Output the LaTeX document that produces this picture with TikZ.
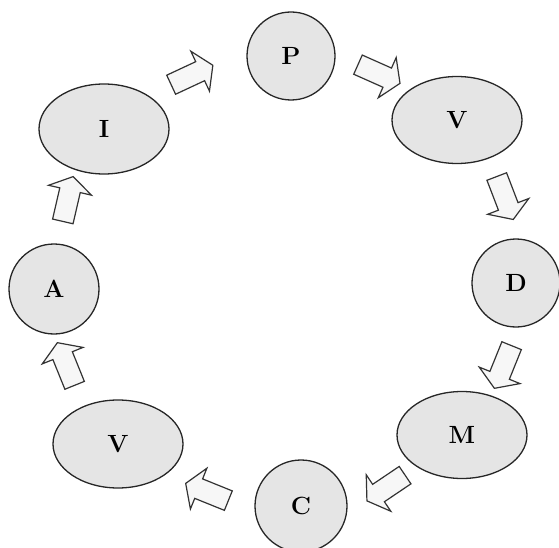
\documentclass[tikz,border=0pt]{standalone}
\usepackage{fontspec}
\usetikzlibrary{shapes.geometric}

\tikzset{
  flowarrow/.pic={
    \draw[draw=black!80, fill=black!3, line width=1.2pt, line join=miter]
      (-23,-10.5) -- (9,-10.5) -- (9,-22) -- (23,0) -- (9,22) -- (9,10.5) -- (-23,10.5) -- cycle;
  }
}

\begin{document}
\begin{tikzpicture}[x=1pt, y=1pt,
      stage/.style={draw=black!85, fill=black!10, line width=1.3pt, inner sep=0pt,
        font=\Huge\bfseries},
      round/.style={stage, circle, minimum size=88pt},
      oval/.style={stage, ellipse, minimum width=130pt, minimum height=87pt}
  ]
    \useasboundingbox (0,0) rectangle (559,547);

    \node[round] (p) at (291,491) {P};
    \node[oval] (v1) at (457,427) {V};
    \node[round] (d) at (516,264) {D};
    \node[oval] (m) at (462,112) {M};
    \node[round, minimum size=92pt] (c) at (301,41) {C};
    \node[oval, minimum height=88pt] (v2) at (118,103) {V};
    \node[round, minimum size=90pt] (a) at (54,258) {A};
    \node[oval, minimum height=90pt] (i) at (104,418) {I};

    % block arrows round the cycle
    \foreach \x/\y/\r [count=\n] in {192/472/25, 379/473/-24, 505/349/-69, 503/180/-112,
                                     386/59/-146, 207/55/158, 66/183/112, 68/348/77} {
      \pic[rotate=\r] (f\n) at (\x,\y) {flowarrow};
    }
  \end{tikzpicture}
\end{document}
